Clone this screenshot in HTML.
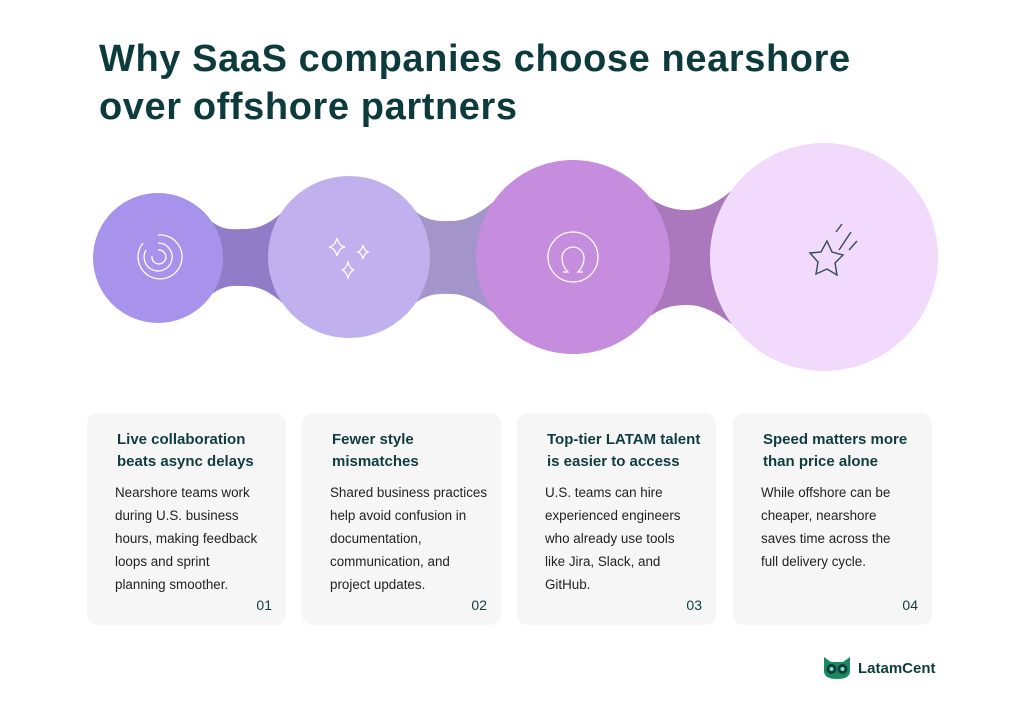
<!DOCTYPE html>
<html><head><meta charset="utf-8"><style>
*{margin:0;padding:0;box-sizing:border-box}
body{width:1024px;height:713px;background:#fff;font-family:"Liberation Sans",sans-serif;position:relative;overflow:hidden}
h1{position:absolute;left:99px;top:35px;font-size:38px;line-height:48px;color:#0d3b3d;font-weight:bold;letter-spacing:0.6px;white-space:nowrap}
.card{position:absolute;top:413px;width:199px;height:212px;background:#f6f6f6;border-radius:11px}
.card h3{position:absolute;left:30px;top:16px;font-size:15px;line-height:22px;color:#0f3d3f;font-weight:bold;white-space:nowrap}
.card p{position:absolute;left:28px;top:68px;font-size:13.4px;line-height:23px;color:#222;white-space:nowrap}
.card .n{position:absolute;right:14px;bottom:12px;font-size:14px;color:#0f3d3f}
.logo{position:absolute;left:822px;top:657px;display:flex;align-items:center;font-weight:bold;font-size:15px;color:#0f3d3f}
</style></head><body>
<h1>Why SaaS companies choose nearshore<br>over offshore partners</h1>
<svg width="1024" height="713" style="position:absolute;left:0;top:0">
<path d="M158 216 L205 216 C222 232 232 229 243 229 C258 229 268 225 285 210 L349 210 L349 305 L285 305 C268 290 258 286 243 286 C232 286 222 284 205 300 L158 300Z" fill="#917cc8"/>
<path d="M349 207 L410 207 C428 223 440 221 451 221 C464 221 478 216 500 196 L573 196 L573 318 L500 318 C478 300 464 294 451 294 C440 294 428 292 410 307 L349 307Z" fill="#a395c9"/>
<path d="M573 190 L640 190 C660 208 675 210 688 210 C702 210 718 204 740 183 L824 183 L824 331 L740 331 C718 312 702 305 688 305 C675 305 660 306 640 324 L573 324Z" fill="#ab78bd"/>
<circle cx="158" cy="258" r="65" fill="#a893ec"/>
<circle cx="349" cy="257" r="81" fill="#c0b0ee"/>
<circle cx="573" cy="257" r="97" fill="#c68ddf"/>
<circle cx="824" cy="257" r="114" fill="#f2dafd"/>
<g fill="none" stroke="#fff" stroke-width="1.3">
<path d="M158 235 A22 22 0 1 1 143 243"/><path d="M158 243 A14 14 0 1 1 146 250"/><path d="M158 250 A7 7 0 1 1 152 256"/>
<path d="M337 238 q2 8 8 9 q-6 1 -8 9 q-2 -8 -8 -9 q6 -1 8 -9z"/>
<path d="M363 245 q1.5 6 5 7 q-3.5 1 -5 7 q-1.5 -6 -5 -7 q3.5 -1 5 -7z"/>
<path d="M348 262 q2 7 6 8 q-4 1 -6 8 q-2 -7 -6 -8 q4 -1 6 -8z"/>
<circle cx="573" cy="257" r="25"/>
<path d="M563 272 h5 q-6 -6 -6 -14 a11 11 0 0 1 22 0 q0 8 -6 14 h5"/>
</g>
<g fill="none" stroke="#2f4c5c" stroke-width="1.4">
<path d="M827 241 l5 11 l11 3 l-8 8 l2 12 l-10 -6 l-11 5 l2 -12 l-8 -9 l11 -1z"/>
<path d="M836 232 l6 -8 M839 250 l12 -18 M849 250 l8 -9"/>
</g>
</svg>
<div class="card" style="left:87px"><h3>Live collaboration<br>beats async delays</h3><p>Nearshore teams work<br>during U.S. business<br>hours, making feedback<br>loops and sprint<br>planning smoother.</p><div class="n">01</div></div>
<div class="card" style="left:302px"><h3>Fewer style<br>mismatches</h3><p>Shared business practices<br>help avoid confusion in<br>documentation,<br>communication, and<br>project updates.</p><div class="n">02</div></div>
<div class="card" style="left:517px"><h3>Top-tier LATAM talent<br>is easier to access</h3><p>U.S. teams can hire<br>experienced engineers<br>who already use tools<br>like Jira, Slack, and<br>GitHub.</p><div class="n">03</div></div>
<div class="card" style="left:733px"><h3>Speed matters more<br>than price alone</h3><p>While offshore can be<br>cheaper, nearshore<br>saves time across the<br>full delivery cycle.</p><div class="n">04</div></div>
<div class="logo"><svg width="30" height="22" viewBox="0 0 30 22"><path d="M2 0 L9 5 H21 L28 0 V14 Q28 22 15 22 Q2 22 2 14Z" fill="#1a8a5e"/><circle cx="9.5" cy="12" r="5" fill="#0f3d3f"/><circle cx="20.5" cy="12" r="5" fill="#0f3d3f"/><circle cx="9.5" cy="12" r="2" fill="#7fe0b0"/><circle cx="20.5" cy="12" r="2" fill="#7fe0b0"/></svg><span style="margin-left:6px">LatamCent</span></div>
</body></html>
